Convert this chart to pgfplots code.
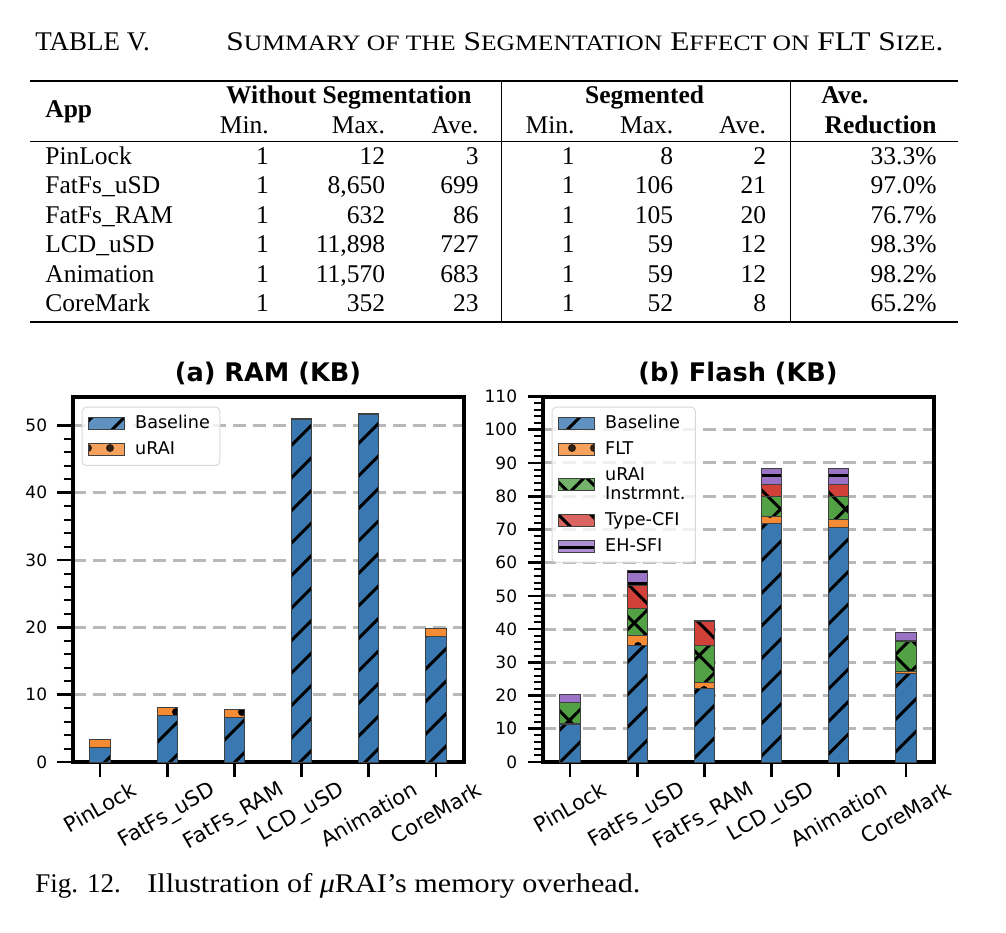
\documentclass[border=0pt]{standalone}
\usepackage{fontspec}
\setmainfont{Liberation Serif}
\newfontfamily\dejavu{DejaVu Sans}
\usepackage{graphicx}
\usepackage{pgfplots}
\pgfplotsset{compat=1.18}
\usetikzlibrary{patterns.meta}

\definecolor{cblue}{HTML}{3A78B2}
\definecolor{corange}{HTML}{F58B35}
\definecolor{cgreen}{HTML}{52A145}
\definecolor{cred}{HTML}{D2403A}
\definecolor{cpurple}{HTML}{9A72C6}

\newcommand{\tf}{\fontsize{12.75pt}{15pt}\selectfont}
\newcommand{\cf}{\fontsize{13.5pt}{16pt}\selectfont}
\newcommand{\smc}[1]{{\fontsize{11pt}{13pt}\selectfont #1}}
\newcommand{\rl}[1]{\rotatebox{30}{#1}}

\pgfplotsset{
  legimg/.style={/pgfplots/legend image code/.code={\draw[##1, sharp corners] (0pt,-3pt) rectangle (18pt,3pt);}},
  sB/.style={fill=cblue, draw=black!75, line width=0.5pt, postaction={pattern={Lines[angle=45,distance=11.5pt,line width=1.5pt]}, pattern color=black}, legimg},
  sF/.style={fill=corange, draw=black!75, line width=0.5pt, postaction={pattern={Dots[radius=2pt,distance=11pt]}, pattern color=black}, legimg},
  sU/.style={fill=cgreen, draw=black!75, line width=0.5pt, postaction={pattern={Hatch[angle=45,distance=11.5pt,line width=1.5pt]}, pattern color=black}, legimg},
  sC/.style={fill=cred, draw=black!75, line width=0.5pt, postaction={pattern={Lines[angle=-45,distance=11.5pt,line width=1.5pt]}, pattern color=black}, legimg},
  sE/.style={fill=cpurple, draw=black!75, line width=0.5pt, postaction={pattern={Lines[angle=0,distance=6pt,line width=1.5pt]}, pattern color=black}, legimg},
  mychart/.style={
    scale only axis, width=195.5pt, height=182.75pt, anchor=south west,
    ybar stacked, bar width=0.3,
    xmin=-0.41, xmax=5.41, ymin=0,
    xtick={0,...,5},
    xticklabels={\rl{PinLock},\rl{FatFs\_uSD},\rl{FatFs\_RAM},\rl{LCD\_uSD},\rl{Animation},\rl{CoreMark}},
    xticklabel style={anchor=north, font=\dejavu\fontsize{10.5pt}{12pt}\selectfont, inner sep=0pt, yshift=-1.5pt},
    yticklabel style={anchor=east, font=\dejavu\fontsize{8.5pt}{10pt}\selectfont, inner sep=0pt, xshift=-5pt},
    /pgf/number format/assume math mode=true,
    tick align=outside, tick pos=left,
    minor y tick num=4,
    major tick length=7.5pt, minor tick length=4.5pt,
    every major tick/.append style={black, line width=1.35pt},
    every minor tick/.append style={black, line width=1pt},
    axis line style={line width=2pt},
    ymajorgrids,
    major grid style={line width=1.5pt, color=black!28, dash pattern=on 6.5pt off 3.5pt},
    legend cell align=left,
    legend style={at={(0,1)}, anchor=north west, xshift=4.6pt, yshift=-5.1pt,
      draw=black!15, rounded corners=2pt, fill=white, fill opacity=0.8, text opacity=1,
      font=\dejavu\fontsize{8.8pt}{10.5pt}\selectfont, line width=0.5pt,
      inner xsep=3pt, inner ysep=2pt, row sep=1pt,
      /tikz/every odd column/.append style={column sep=3pt}},
  }
}

\begin{document}
\begin{tikzpicture}
\path[use as bounding box] (0,0) rectangle (503pt,-466pt);

\begin{scope}[x=0.5pt,y=-0.5pt]
% table caption
\node[anchor=base west, inner sep=0] at (35,50) {\cf TABLE V.};
\node[anchor=base west, inner sep=0] at (226,50) {\resizebox{358.5pt}{\height}{\cf S\smc{UMMARY OF THE} S\smc{EGMENTATION} E\smc{FFECT ON} FLT S\smc{IZE}.}};
% rules
\draw[line width=1pt] (30,81) -- (958,81);
\draw[line width=0.75pt] (30,141.7) -- (958,141.7);
\draw[line width=1pt] (30,321.7) -- (958,321.7);
\draw[line width=0.5pt] (501.8,81) -- (501.8,321.7);
\draw[line width=0.5pt] (790.5,81) -- (790.5,321.7);
% header
\node[anchor=base west, inner sep=0] at (45,117) {\tf\bfseries App};
\node[anchor=base, inner sep=0] at (348.8,103) {\tf\bfseries Without Segmentation};
\node[anchor=base, inner sep=0] at (644.6,103) {\tf\bfseries Segmented};
\node[anchor=base west, inner sep=0] at (821,103) {\tf\bfseries Ave.};
\node[anchor=base east, inner sep=0] at (937,133) {\tf\bfseries Reduction};
\foreach \xx/\tt in {269.2/Min., 385.5/Max., 478.9/Ave., 575/Min., 673.6/Max., 766.4/Ave.}
  \node[anchor=base east, inner sep=0] at (\xx,133) {\tf \tt};
% rows
\foreach \yy/\a/\b/\c/\d/\e/\f/\g/\h in {
  164.7/PinLock/1/12/3/1/8/2/33.3\%,
  193.7/FatFs\_uSD/1/8{,}650/699/1/106/21/97.0\%,
  223/FatFs\_RAM/1/632/86/1/105/20/76.7\%,
  252.3/LCD\_uSD/1/11{,}898/727/1/59/12/98.3\%,
  282.3/Animation/1/11{,}570/683/1/59/12/98.2\%,
  311.3/CoreMark/1/352/23/1/52/8/65.2\%}{
  \node[anchor=base west, inner sep=0] at (45,\yy) {\tf \a};
  \node[anchor=base east, inner sep=0] at (269.2,\yy) {\tf \b};
  \node[anchor=base east, inner sep=0] at (385.5,\yy) {\tf \c};
  \node[anchor=base east, inner sep=0] at (478.9,\yy) {\tf \d};
  \node[anchor=base east, inner sep=0] at (575,\yy) {\tf \e};
  \node[anchor=base east, inner sep=0] at (673.6,\yy) {\tf \f};
  \node[anchor=base east, inner sep=0] at (766.4,\yy) {\tf \g};
  \node[anchor=base east, inner sep=0] at (937,\yy) {\tf \h};
}
% chart titles
\node[anchor=base, inner sep=0] at (268,381.5) {\dejavu\bfseries\fontsize{12.8pt}{14pt}\selectfont (a) RAM (KB)};
\node[anchor=base, inner sep=0] at (738,381.5) {\dejavu\bfseries\fontsize{12.8pt}{14pt}\selectfont (b) Flash (KB)};
% figure caption
\node[anchor=base west, inner sep=0] at (35,892) {\cf Fig. 12.};
\node[anchor=base west, inner sep=0] at (147,892) {\resizebox{246.5pt}{\height}{\cf Illustration of \textit{μ}RAI’s memory overhead.}};
\end{scope}

\begin{axis}[mychart, at={(36.25pt,-381pt)}, ymax=54.3, ytick={0,10,...,50}]
\addplot[sB] coordinates {(0,2.1) (1,6.9) (2,6.6) (3,50.9) (4,51.7) (5,18.7)};
\addlegendentry{Baseline}
\addplot[sF] coordinates {(0,1.3) (1,1.15) (2,1.15) (3,0.1) (4,0.1) (5,1.2)};
\addlegendentry{uRAI}
\end{axis}

\begin{axis}[mychart, at={(271.25pt,-381pt)}, ymax=110, ytick={0,10,...,110}]
\addplot[sB] coordinates {(0,11.3) (1,35.2) (2,22.0) (3,71.7) (4,70.7) (5,26.7)};
\addlegendentry{Baseline}
\addplot[sF] coordinates {(0,0.2) (1,3.0) (2,1.8) (3,2.1) (4,2.2) (5,0.6)};
\addlegendentry{FLT}
\addplot[sU] coordinates {(0,6.3) (1,8.1) (2,11.4) (3,6.2) (4,7.1) (5,9.0)};
\addlegendentry{\shortstack[l]{uRAI\\Instrmnt.}}
\addplot[sC] coordinates {(0,0) (1,6.7) (2,7.1) (3,3.5) (4,3.5) (5,0.3)};
\addlegendentry{Type-CFI}
\addplot[sE] coordinates {(0,2.5) (1,4.7) (2,0.3) (3,4.7) (4,4.7) (5,2.4)};
\addlegendentry{EH-SFI}
\end{axis}
\end{tikzpicture}
\end{document}
